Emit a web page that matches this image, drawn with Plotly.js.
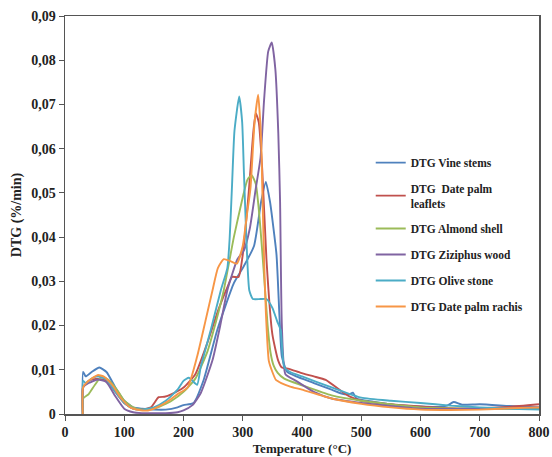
<!DOCTYPE html>
<html><head><meta charset="utf-8">
<script src="https://cdn.plot.ly/plotly-3.0.1.min.js"></script>
<style>html,body{margin:0;padding:0;background:#fff}#chart{width:552px;height:457px}</style>
</head><body><div id="chart"></div>
<script>
const seriesNames = ["DTG Vine stems","DTG  Date palm<br>leaflets","DTG Almond shell","DTG Ziziphus wood","DTG Olive stone","DTG Date palm rachis"];
const seriesColors = ["#4F81BD","#C0504D","#9BBB59","#8064A2","#4BACC6","#F79646"];

const vineT = [30,30.5,35,45,58,70,85,100,115,130,150,170,190,200,217,234,257,285,300,319,331,339,346,350,357,362,366,375,390,420,450,470,480,486,492,520,560,600,630,645,656,670,700,750,800];
const vineY = [0,0.0095,0.0085,0.0095,0.0105,0.0095,0.006,0.003,0.0015,0.0012,0.001,0.001,0.0015,0.002,0.0025,0.0077,0.019,0.0296,0.033,0.038,0.048,0.0525,0.048,0.044,0.036,0.022,0.013,0.0095,0.0085,0.007,0.0055,0.0045,0.0045,0.0048,0.0035,0.0028,0.002,0.0017,0.0016,0.0019,0.0027,0.0021,0.0022,0.0018,0.0015];

const leafT = [30,30.5,40,55,70,85,100,115,130,145,158,168,180,200,220,240,260,275,282,293,300,310,318,322,327,333,340,350,360,366,378,398,420,440,470,480,500,550,600,650,700,750,800];
const leafY = [0,0.006,0.0075,0.008,0.0075,0.005,0.0025,0.0012,0.001,0.0015,0.0038,0.0039,0.0045,0.006,0.009,0.016,0.024,0.029,0.031,0.031,0.036,0.05,0.064,0.068,0.066,0.055,0.035,0.018,0.012,0.0105,0.0102,0.0093,0.0085,0.0077,0.0048,0.004,0.003,0.0022,0.0017,0.0013,0.0013,0.0016,0.0022];

const almondT = [30,30.5,40,50,62,75,90,100,115,130,150,165,180,200,220,240,255,268,285,300,308,315,322,328,335,342,347,352,359,370,400,450,500,600,700,800];
const almondY = [0,0.0035,0.0045,0.0065,0.0085,0.0075,0.005,0.003,0.0015,0.001,0.0012,0.002,0.003,0.005,0.008,0.014,0.021,0.028,0.040,0.049,0.053,0.054,0.052,0.045,0.033,0.02,0.0138,0.011,0.0093,0.008,0.0065,0.0042,0.003,0.0015,0.0012,0.0012];

const zizT = [30,30.5,40,55,70,85,100,115,130,150,170,190,200,215,229,249,262,274,291,302,312,322,330,336,343,349,355,360,363,366,372,390,420,450,500,600,700,800];
const zizY = [0,0.006,0.007,0.0078,0.0072,0.004,0.0012,0.0004,0.0002,0.0002,0.0002,0.0004,0.0008,0.002,0.0047,0.0122,0.02,0.028,0.035,0.037,0.042,0.051,0.058,0.071,0.082,0.084,0.078,0.0635,0.048,0.02,0.009,0.0075,0.005,0.0035,0.0025,0.0012,0.0012,0.0015];

const oliveT = [30,30.5,35,45,55,70,85,100,115,130,150,170,190,200,209,223,229,246,263,274,278,282,286,294,299,302,306,311,317,330,340,350,358,364,370,380,400,450,500,550,600,650,700,750,800];
const oliveY = [0,0.0075,0.007,0.008,0.0085,0.0078,0.005,0.0025,0.0012,0.001,0.0015,0.003,0.0055,0.0075,0.0082,0.0066,0.0106,0.019,0.028,0.033,0.040,0.052,0.064,0.0718,0.066,0.0545,0.04,0.028,0.026,0.026,0.026,0.024,0.021,0.019,0.0106,0.0095,0.0085,0.006,0.0037,0.003,0.0025,0.0019,0.0015,0.0012,0.001];

const rachisT = [30,30.5,40,55,65,80,95,110,125,140,155,175,190,207,223,237,249,258,268,280,290,300,307,313,320,326,331,333,336,339,344,350,356,365,380,400,450,500,550,600,650,700,750,800];
const rachisY = [0,0.006,0.0075,0.0088,0.0085,0.0065,0.0035,0.0015,0.0009,0.0008,0.0015,0.003,0.0045,0.006,0.013,0.021,0.028,0.033,0.035,0.0345,0.034,0.038,0.045,0.051,0.066,0.0722,0.062,0.051,0.035,0.023,0.012,0.0095,0.0077,0.007,0.0062,0.0055,0.0035,0.0023,0.0015,0.001,0.0009,0.001,0.0013,0.0015];

const xTickVals = [0,100,200,300,400,500,600,700,800];
const yTickVals = [0,0.01,0.02,0.03,0.04,0.05,0.06,0.07,0.08,0.09];
const yTickText = ["0","0,01","0,02","0,03","0,04","0,05","0,06","0,07","0,08","0,09"];

const xs = [vineT, leafT, almondT, zizT, oliveT, rachisT];
const ys = [vineY, leafY, almondY, zizY, oliveY, rachisY];

const traces = xs.map((x, i) => ({
  x: x, y: ys[i], type: 'scatter', mode: 'lines',
  name: seriesNames[i], legendgroup: 'g' + i,
  line: {color: seriesColors[i], width: 1.9, shape: 'spline', smoothing: 0.5}
}));

const serif = 'Liberation Serif, Times New Roman, serif';
const layout = {
  width: 552, height: 457,
  margin: {l: 65, r: 13, t: 16, b: 43},
  paper_bgcolor: '#fff', plot_bgcolor: '#fff',
  showlegend: true,
  legend: {x: 0.645, y: 0.668, xanchor: 'left', yanchor: 'top',
    font: {family: serif, size: 11.5, color: '#222', weight: 'bold'},
    tracegroupgap: 7, bgcolor: 'rgba(0,0,0,0)', itemwidth: 30},
  xaxis: {range: [0, 800], tickvals: xTickVals, ticks: 'outside', ticklen: 5,
    showgrid: false, zeroline: false, showline: true, linecolor: '#555', linewidth: 1.5,
    mirror: true, tickcolor: '#555',
    tickfont: {family: serif, size: 14, color: '#222', weight: 'bold'},
    title: {text: 'Temperature (°C)', font: {family: serif, size: 13, color: '#222', weight: 'bold'}, standoff: 4}},
  yaxis: {range: [0, 0.09], tickvals: yTickVals, ticks: 'outside', ticklen: 5, ticktext: yTickText,
    showgrid: false, zeroline: false, showline: true, linecolor: '#555', linewidth: 1.5,
    mirror: true, tickcolor: '#555',
    tickfont: {family: serif, size: 14, color: '#222', weight: 'bold'},
    title: {text: 'DTG (%/min)', font: {family: serif, size: 14, color: '#222', weight: 'bold'}, standoff: 6}}
};
Plotly.newPlot('chart', traces, layout, {displayModeBar: false, staticPlot: true});
</script></body></html>
